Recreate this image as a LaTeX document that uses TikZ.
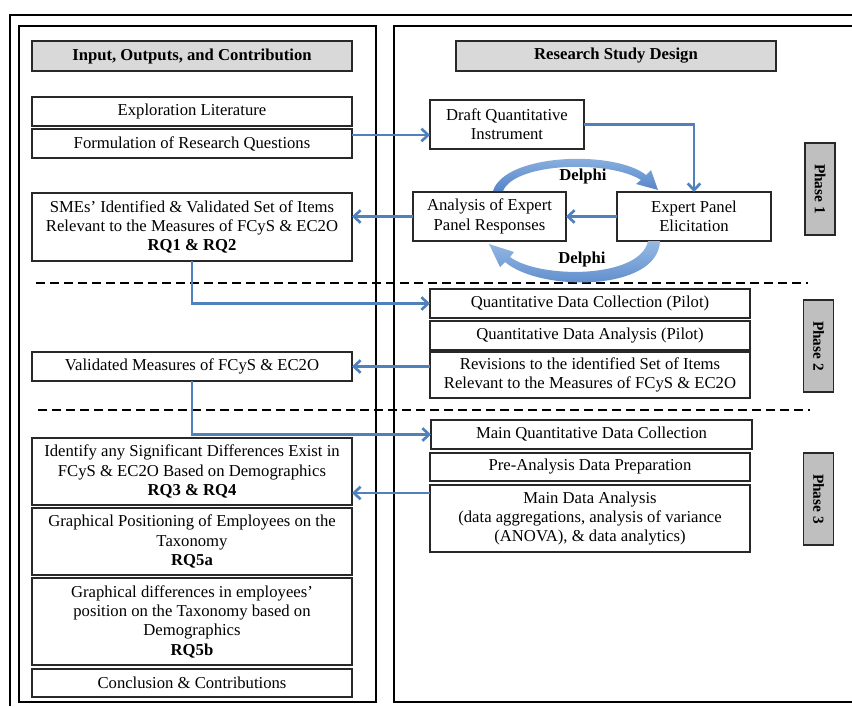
\documentclass[tikz,border=0pt]{standalone}
\usepackage{fontspec}
\setmainfont{Liberation Serif}
\usetikzlibrary{arrows.meta,calc}

\definecolor{flowblue}{RGB}{79,129,189}
\definecolor{delphiblue}{RGB}{86,134,200}
\definecolor{delphilight}{RGB}{150,185,228}
\definecolor{hdrgray}{RGB}{217,217,217}
\definecolor{phasegray}{RGB}{191,191,191}
\definecolor{boxline}{RGB}{40,40,40}

\tikzset{
  box/.style={draw=boxline, line width=1pt, fill=white, align=center,
              inner sep=1pt, outer sep=0pt},
  hdr/.style={box, fill=hdrgray},
  phasebox/.style={draw=boxline, line width=1pt, fill=phasegray,
              font=\fontsize{11.5}{13}\selectfont\bfseries, rotate=-90,
              minimum width=69pt, minimum height=22.5pt, inner sep=0pt},
  flow/.style={draw=flowblue, line width=2pt,
              -{Straight Barb[length=5pt,width=9.5pt]}},
  sepline/.style={line width=2.1pt, dash pattern=on 7pt off 3.5pt},
  frame/.style={line width=1pt, draw=black},
  delphi/.style={top color=delphilight, bottom color=delphiblue, draw=none}
}

\begin{document}
\begin{tikzpicture}[x=0.75pt, y=-0.75pt, font=\fontsize{12.5}{14.5}\selectfont]
\useasboundingbox (0,0) rectangle (852,706);

% frames
\draw[frame] (10,706) -- (10,15) -- (852,15);
\draw[frame] (19,26) rectangle (376,702);
\draw[frame] (852,26) -- (394,26) -- (394,702) -- (852,702);

% headers
\node[hdr, minimum width=240pt, minimum height=22.5pt] (hl) at (192,56)
  {\bfseries Input, Outputs, and Contribution};
\node[hdr, minimum width=240pt, minimum height=22.5pt] (hr) at (616,56)
  {\bfseries Research Study Design};

% left column
\node[box, minimum width=240pt, minimum height=21.75pt] (lit) at (192,111.5)
  {Exploration Literature};
\node[box, minimum width=240pt, minimum height=21.75pt] (form) at (192,143.5)
  {Formulation of Research Questions};
\node[box, minimum width=240pt, minimum height=51pt] (smes) at (192,227)
  {SMEs’ Identified \& Validated Set of Items\\Relevant to the Measures of FCyS \& EC2O\\\bfseries RQ1 \& RQ2};
\node[box, minimum width=240pt, minimum height=21.75pt] (valid) at (192,366.5)
  {Validated Measures of FCyS \& EC2O};
\node[box, minimum width=240pt, minimum height=50.25pt] (ident) at (192,471.5)
  {Identify any Significant Differences Exist in\\FCyS \& EC2O Based on Demographics\\\bfseries RQ3 \& RQ4};
\node[box, minimum width=240pt, minimum height=50.25pt] (gpos) at (192,541.5)
  {Graphical Positioning of Employees on the\\Taxonomy\\\bfseries RQ5a};
\node[box, minimum width=240pt, minimum height=65.25pt] (gdiff) at (192,621.5)
  {Graphical differences in employees’\\position on the Taxonomy based on\\Demographics\\\bfseries RQ5b};
\node[box, minimum width=240pt, minimum height=21pt] (concl) at (192,683)
  {Conclusion \& Contributions};

% right column
\node[box, minimum width=115.5pt, minimum height=36.75pt] (draft) at (507,124.5)
  {Draft Quantitative\\Instrument};
\node[box, minimum width=114.75pt, minimum height=36.75pt] (anal) at (489.5,216.5)
  {Analysis of Expert\\Panel Responses};
\node[box, minimum width=115.5pt, minimum height=36.75pt] (expert) at (694,216.5)
  {Expert Panel\\Elicitation};
\node[box, minimum width=240pt, minimum height=21.75pt] (qdc) at (590,303.5)
  {Quantitative Data Collection (Pilot)};
\node[box, minimum width=240pt, minimum height=21.75pt] (qda) at (590,335.5)
  {Quantitative Data Analysis (Pilot)};
\node[box, minimum width=240pt, minimum height=34.5pt] (rev) at (590,375)
  {Revisions to the identified Set of Items\\Relevant to the Measures of FCyS \& EC2O};
\node[box, minimum width=240.75pt, minimum height=21.75pt] (mqdc) at (591.5,434.5)
  {Main Quantitative Data Collection};
\node[box, minimum width=240pt, minimum height=21pt] (pre) at (590,467)
  {Pre-Analysis Data Preparation};
\node[box, minimum width=240pt, minimum height=50.25pt] (mda) at (590,518.5)
  {Main Data Analysis\\(data aggregations, analysis of variance\\(ANOVA), \& data analytics)};

% phase labels
\node[phasebox] (p1) at (820,189) {Phase 1};
\node[phasebox] (p2) at (818.5,346) {Phase 2};
\node[phasebox] (p3) at (818.5,499) {Phase 3};

% phase separators
\coordinate (s1a) at (36,283);
\coordinate (s1b) at (808,283);
\coordinate (s2a) at (38,410);
\coordinate (s2b) at (810,410);
\draw[sepline] (s1a) -- (s1b);
\draw[sepline] (s2a) -- (s2b);

% connectors
\coordinate (r1) at (0,135);
\coordinate (r8) at (0,493);
\draw[flow] (form.east |- r1) -- (draft.west |- r1);
\draw[flow] (draft.east) -| (expert.north);
\draw[flow] (expert.west) -- (anal.east);
\draw[flow] (anal.west) -- (smes.east |- anal.west);
\draw[flow] (smes.south) |- (qdc.west);
\draw[flow] (rev.west |- valid.east) -- (valid.east);
\draw[flow] (valid.south) |- (mqdc.west);
\draw[flow] (mda.west |- r8) -- (ident.east |- r8);

% Delphi loop arrows
\shade[delphi] (493,191) .. controls (505,153) and (615,150) .. (646,175)
  -- (651,170) -- (658,190) -- (636,184) -- (641,180)
  .. controls (610,160) and (515,162) .. (503,191) -- cycle;
\shade[delphi] (660,241) .. controls (658,292) and (540,292) .. (505,262)
  -- (500,267) -- (489,244) -- (514,252) -- (510,257)
  .. controls (540,279) and (640,279) .. (648,241) -- cycle;
\node[font=\fontsize{12.5}{14.5}\selectfont\bfseries] (dtop) at (583,176) {Delphi};
\node[font=\fontsize{12.5}{14.5}\selectfont\bfseries] (dbot) at (582,259) {Delphi};

\end{tikzpicture}
\end{document}
